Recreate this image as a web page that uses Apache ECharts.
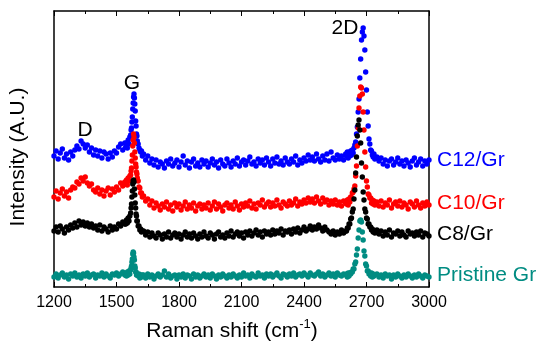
<!DOCTYPE html>
<html><head><meta charset="utf-8">
<script src="https://cdn.jsdelivr.net/npm/echarts@6/dist/echarts.min.js"></script>
<style>html,body{margin:0;padding:0;background:#fff}#c{width:550px;height:350px}</style>
</head><body><div id="c"></div>
<script>
// Raman shift (cm-1) sample positions
const shift = [
1200,1210,1220,1230,1240,1250,1260,1270,1280,1290,1300,1310,1320,1330,1340,1350,1360,1370,1380,1390,1400,1410,1420,1430,1440,1450,1460,1470,1480,1490,1500,1510,1520,1530,1540,
1544,1548,1552,1556,1560,1564,1568,1570,1572,1574,1576,1578,1580,1582,1584,1586,1588,1590,1592,1594,1596,1598,1600,1604,1608,1612,1616,1620,1624,
1630,1640,1650,1660,1670,1680,1690,1700,1710,1720,1730,1740,1750,1760,1770,1780,1790,1800,1810,1820,1830,1840,1850,1860,1870,1880,1890,1900,1910,1920,1930,1940,1950,1960,1970,1980,1990,2000,2010,2020,2030,2040,2050,2060,2070,2080,2090,2100,2110,2120,2130,2140,2150,2160,2170,2180,2190,2200,2210,2220,2230,2240,2250,2260,2270,2280,2290,2300,2310,2320,2330,2340,2350,2360,2370,2380,2390,2400,2410,2420,2430,2440,2450,2460,2470,2480,2490,2500,2510,2520,2530,2540,2550,2560,2570,2580,2590,2600,
2604,2608,2612,2616,2620,2624,2628,2632,2636,2640,2644,2648,2652,2656,2660,2664,2668,2672,2676,2680,2684,2688,2692,2696,2700,2704,2708,2712,2716,2720,2724,2728,2732,2736,2740,
2750,2760,2770,2780,2790,2800,2810,2820,2830,2840,2850,2860,2870,2880,2890,2900,2910,2920,2930,2940,2950,2960,2970,2980,2990,3000
];
// Intensities (arbitrary units, spectra stacked with offsets)
const c12 = [
131,136,128,134,138,129,133,127,135,131, 137,141,138,146,143,139,142,135,139,132, 137,131,136,129,135,133,128,134,130,136, 134,140,143,137,144,
140,144,139,147,143,150,152,157,159,165, 170,178,184,190,193,189,183,176,166,161, 153,151,146,143,139,137,135,136,131,
133,127,131,124,128,122,127,120,125,123, 119,126,123,128,121,124,127,120,125,131, 122,126,119,125,128,121,124,120,127,123,
126,120,124,128,122,125,119,127,123,121, 128,124,120,126,123,129,121,125,127,122, 126,130,123,125,121,128,124,127,122,129,
125,121,128,124,130,123,126,122,129,125, 123,128,125,131,122,127,124,129,126,132, 127,130,126,133,128,125,131,127,133,126,
135,129,127,132,128,131,127,133,
131,135,129,134,131,136,132,137,134,139, 142,145,153,160,175,188,209,228,247,255, 259,251,237,215,197,175,161,148,143,137, 136,132,130,133,128,
130,126,129,123,127,121,126,128,122,125, 129,123,126,121,127,124,120,126,129,122, 125,128,121,126,123,127
];
const c10 = [
90,96,88,94,98,91,95,89,97,100, 99,105,103,109,106,110,104,101,103,97, 95,99,93,97,91,96,99,92,98,95, 100,97,104,101,105,
103,107,102,109,106,111,112,116,119,126, 132,141,147,153,150,144,135,129,123,120, 115,113,109,106,100,99,94,94,90,
91,86,88,82,86,79,84,81,77,83, 80,85,78,82,76,84,80,83,77,81, 85,78,82,79,84,76,81,83,78,82,
79,84,77,81,85,78,83,80,76,82, 84,79,82,78,85,81,77,83,80,84, 81,86,79,83,78,84,82,87,80,83,
85,80,84,81,87,82,79,85,83,81, 86,82,84,88,81,85,83,87,84,89, 85,88,84,90,86,83,89,85,87,82,
86,83,87,82,85,81,86,84,
83,87,82,88,85,90,89,94,95,98, 101,111,121,141,159,179,191,200,199,193, 175,157,135,120,106,100,93,92,89,89, 84,87,83,86,82,
85,81,86,80,84,82,87,79,83,85, 81,86,80,84,82,78,85,83,80,86, 82,79,84,81,85,82
];
const c8 = [
56,60,55,61,58,54,60,57,62,59, 64,60,66,62,65,61,64,60,63,59, 61,57,62,56,60,58,55,61,57,60, 58,63,61,65,63,
63,67,64,69,66,71,74,79,83,90, 96,103,106,107,105,98,92,84,79,73, 71,66,66,61,61,57,58,55,56,
56,52,55,50,54,51,49,54,52,48, 53,50,55,49,52,54,50,53,48,52, 55,50,53,49,54,51,48,53,50,55,
51,49,54,52,48,53,55,50,52,49, 54,51,56,50,53,55,51,54,49,55, 52,56,51,54,57,52,55,50,56,53,
55,52,57,53,56,54,58,52,56,55, 57,53,58,55,59,54,57,60,56,58, 61,57,60,58,62,59,56,60,57,55,
53,56,52,55,53,57,54,56,
56,59,59,63,63,68,69,75,78,88, 97,114,130,151,162,167,157,144,124,110, 95,87,78,75,69,68,63,63,60,60, 57,58,55,56,54,
57,53,56,51,55,52,57,50,54,53, 56,51,55,52,50,56,53,54,51,55, 52,56,50,54,53,51
];
const pristine = [
10,13,9,12,14,10,12,8,13,11, 14,10,12,9,13,11,14,10,12,13, 9,12,11,14,10,13,11,9,13,12, 14,11,13,15,12,
13,11,15,12,16,13,17,19,21,25, 28,33,35,34,30,27,21,19,15,15, 12,13,12,11,13,9,12,10,12,
12,9,13,10,12,8,11,13,10,12, 16,10,13,9,11,12,8,12,10,13, 9,12,11,8,13,10,12,9,11,13,
10,12,9,13,11,8,12,10,13,11, 9,12,10,13,11,9,12,10,14,11, 12,9,13,11,10,14,11,12,9,13,
11,13,10,12,14,11,9,13,12,10, 13,11,14,10,12,13,11,14,12,10, 14,12,11,13,15,11,13,10,12,14,
11,13,10,14,12,11,13,12,
13,10,14,11,14,13,15,15,18,18, 23,25,32,38,49,57,66,67,65,55, 47,36,31,23,21,16,16,13,14,11, 14,10,13,11,12,
13,10,12,9,13,11,12,8,12,10, 13,11,9,12,10,13,11,9,12,10, 13,11,9,12,11,10
];
const seriesNames = ['C12/Gr', 'C10/Gr', 'C8/Gr', 'Pristine Gr'];
const seriesValues = [c12, c10, c8, pristine];
const seriesLabelLevel = [127, 84, 53, 12];
const peakLabels = ['D', 'G', '2D'];
const peakLabelAt = [[1349, 157], [1574, 204], [2597, 259]];
const xMin = 1200, xMax = 3000, xStep = 300;

const colors = ['#0000ff', '#ff0000', '#000000', '#008c82'];
const FONT = 'Liberation Sans, Arial, sans-serif';

const chart = echarts.init(document.getElementById('c'), null, {renderer: 'canvas'});
const axisCommon = {
  type: 'value', min: xMin, max: xMax, interval: xStep,
  axisLine: {onZero: false, lineStyle: {color: '#000', width: 1.5}},
  axisTick: {show: true, inside: true, length: 5, lineStyle: {color: '#000', width: 1}},
  minorTick: {show: true, splitNumber: 2, length: 3, lineStyle: {color: '#000', width: 1}},
  splitLine: {show: false}
};
chart.setOption({
  animation: false,
  backgroundColor: '#fff',
  grid: {left: 54, right: 121, top: 11, bottom: 63, containLabel: false},
  xAxis: [
    Object.assign({}, axisCommon, {position: 'bottom',
      axisLabel: {show: true, color: '#000', fontSize: 16, fontFamily: FONT, margin: 8, formatter: v => String(v)}}),
    Object.assign({}, axisCommon, {position: 'top', axisLabel: {show: false}})
  ],
  yAxis: [
    {type: 'value', min: 0, max: 276, position: 'left', axisLine: {show: true, onZero: false, lineStyle: {color: '#000', width: 1.5}},
     axisTick: {show: false}, axisLabel: {show: false}, splitLine: {show: false}},
    {type: 'value', min: 0, max: 276, position: 'right', axisLine: {show: true, onZero: false, lineStyle: {color: '#000', width: 1.5}},
     axisTick: {show: false}, axisLabel: {show: false}, splitLine: {show: false}}
  ],
  series: seriesValues.map((vals, i) => ({
    name: seriesNames[i], type: 'scatter', xAxisIndex: 0, yAxisIndex: 0,
    symbol: 'circle', symbolSize: 5.4,
    itemStyle: {color: colors[i], opacity: 1},
    data: shift.map((x, k) => [x, vals[k]])
  }))
});

const g = [];
seriesNames.forEach((n, i) => {
  const p = chart.convertToPixel({xAxisIndex: 0, yAxisIndex: 0}, [xMax, seriesLabelLevel[i]]);
  g.push({type: 'text', x: p[0] + 8, y: p[1], style: {text: n, fill: colors[i], font: '21px ' + FONT, textAlign: 'left', textVerticalAlign: 'middle'}});
});
peakLabels.forEach((n, i) => {
  const p = chart.convertToPixel({xAxisIndex: 0, yAxisIndex: 0}, peakLabelAt[i]);
  g.push({type: 'text', x: p[0], y: p[1], style: {text: n, fill: '#000', font: '21px ' + FONT, textAlign: 'center', textVerticalAlign: 'middle'}});
});
// axis titles
g.push({type: 'text', x: 18, y: 157, rotation: Math.PI / 2,
  style: {text: 'Intensity (A.U.)', fill: '#000', font: '21px ' + FONT, textAlign: 'center', textVerticalAlign: 'middle'}});
g.push({type: 'text', x: 232, y: 330,
  style: {text: '{a|Raman shift (cm}{s|-1}{a|)}', textAlign: 'center', textVerticalAlign: 'middle',
    rich: {a: {fontSize: 21, fontFamily: FONT, fill: '#000', verticalAlign: 'bottom'},
           s: {fontSize: 13, fontFamily: FONT, fill: '#000', verticalAlign: 'bottom', padding: [0, 0, 11, 0]}}}});
chart.setOption({graphic: g});
</script></body></html>
